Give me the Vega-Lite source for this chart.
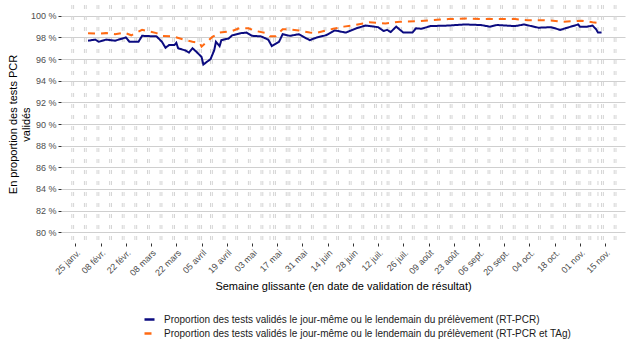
{
  "$schema": "https://vega.github.io/schema/vega-lite/v6.json",
  "width": 564,
  "height": 238,
  "autosize": {"type": "none"},
  "padding": {"left": 61, "top": 5, "right": 10, "bottom": 110},
  "background": "white",
  "config": {
    "view": {"stroke": null},
    "font": "Liberation Sans",
    "axis": {
      "labelFont": "Liberation Sans",
      "titleFont": "Liberation Sans",
      "labelColor": "#4d4d4d",
      "labelFontSize": 9,
      "tickColor": "#333333",
      "tickSize": 3,
      "domain": false,
      "titleFontWeight": "normal",
      "titleFontSize": 11,
      "titleColor": "#000000"
    },
    "axisX": {"labelOverlap": false},
    "axisTemporal": {"labelOverlap": false},
    "legend": {"labelFont": "Liberation Sans", "labelFontSize": 10, "labelColor": "#1a1a1a"}
  },
  "datasets": {
    "weekends": [
      {"date": "2021-01-23"}, {"date": "2021-01-24"}, {"date": "2021-01-30"}, {"date": "2021-01-31"},
      {"date": "2021-02-06"}, {"date": "2021-02-07"}, {"date": "2021-02-13"}, {"date": "2021-02-14"},
      {"date": "2021-02-20"}, {"date": "2021-02-21"}, {"date": "2021-02-27"}, {"date": "2021-02-28"},
      {"date": "2021-03-06"}, {"date": "2021-03-07"}, {"date": "2021-03-13"}, {"date": "2021-03-14"},
      {"date": "2021-03-20"}, {"date": "2021-03-21"}, {"date": "2021-03-27"}, {"date": "2021-03-28"},
      {"date": "2021-04-03"}, {"date": "2021-04-04"}, {"date": "2021-04-05"}, {"date": "2021-04-10"},
      {"date": "2021-04-11"}, {"date": "2021-04-17"}, {"date": "2021-04-18"}, {"date": "2021-04-24"},
      {"date": "2021-04-25"}, {"date": "2021-05-01"}, {"date": "2021-05-02"}, {"date": "2021-05-08"},
      {"date": "2021-05-09"}, {"date": "2021-05-13"}, {"date": "2021-05-15"}, {"date": "2021-05-16"},
      {"date": "2021-05-22"}, {"date": "2021-05-23"}, {"date": "2021-05-24"}, {"date": "2021-05-29"},
      {"date": "2021-05-30"}, {"date": "2021-06-05"}, {"date": "2021-06-06"}, {"date": "2021-06-12"},
      {"date": "2021-06-13"}, {"date": "2021-06-19"}, {"date": "2021-06-20"}, {"date": "2021-06-26"},
      {"date": "2021-06-27"}, {"date": "2021-07-03"}, {"date": "2021-07-04"}, {"date": "2021-07-10"},
      {"date": "2021-07-11"}, {"date": "2021-07-14"}, {"date": "2021-07-17"}, {"date": "2021-07-18"},
      {"date": "2021-07-24"}, {"date": "2021-07-25"}, {"date": "2021-07-31"}, {"date": "2021-08-01"},
      {"date": "2021-08-07"}, {"date": "2021-08-08"}, {"date": "2021-08-14"}, {"date": "2021-08-15"},
      {"date": "2021-08-21"}, {"date": "2021-08-22"}, {"date": "2021-08-28"}, {"date": "2021-08-29"},
      {"date": "2021-09-04"}, {"date": "2021-09-05"}, {"date": "2021-09-11"}, {"date": "2021-09-12"},
      {"date": "2021-09-18"}, {"date": "2021-09-19"}, {"date": "2021-09-25"}, {"date": "2021-09-26"},
      {"date": "2021-10-02"}, {"date": "2021-10-03"}, {"date": "2021-10-09"}, {"date": "2021-10-10"},
      {"date": "2021-10-16"}, {"date": "2021-10-17"}, {"date": "2021-10-23"}, {"date": "2021-10-24"},
      {"date": "2021-10-30"}, {"date": "2021-10-31"}, {"date": "2021-11-01"}, {"date": "2021-11-06"},
      {"date": "2021-11-07"}, {"date": "2021-11-11"}, {"date": "2021-11-13"}, {"date": "2021-11-14"},
      {"date": "2021-11-20"}, {"date": "2021-11-21"}
    ],
    "series": [
      {"date": "2021-02-01", "serie": "pcr", "value": 97.7},
      {"date": "2021-02-05", "serie": "pcr", "value": 97.8},
      {"date": "2021-02-07", "serie": "pcr", "value": 97.6},
      {"date": "2021-02-11", "serie": "pcr", "value": 97.8},
      {"date": "2021-02-16", "serie": "pcr", "value": 97.7},
      {"date": "2021-02-22", "serie": "pcr", "value": 98.0},
      {"date": "2021-02-24", "serie": "pcr", "value": 97.6},
      {"date": "2021-03-01", "serie": "pcr", "value": 97.6},
      {"date": "2021-03-03", "serie": "pcr", "value": 98.15},
      {"date": "2021-03-11", "serie": "pcr", "value": 98.1},
      {"date": "2021-03-14", "serie": "pcr", "value": 97.6},
      {"date": "2021-03-16", "serie": "pcr", "value": 97.05},
      {"date": "2021-03-18", "serie": "pcr", "value": 97.3},
      {"date": "2021-03-21", "serie": "pcr", "value": 97.3},
      {"date": "2021-03-22", "serie": "pcr", "value": 97.5},
      {"date": "2021-03-23", "serie": "pcr", "value": 97.0},
      {"date": "2021-03-27", "serie": "pcr", "value": 96.8},
      {"date": "2021-03-29", "serie": "pcr", "value": 96.6},
      {"date": "2021-03-31", "serie": "pcr", "value": 97.0},
      {"date": "2021-04-02", "serie": "pcr", "value": 96.7},
      {"date": "2021-04-05", "serie": "pcr", "value": 96.2},
      {"date": "2021-04-06", "serie": "pcr", "value": 95.5},
      {"date": "2021-04-08", "serie": "pcr", "value": 95.75},
      {"date": "2021-04-10", "serie": "pcr", "value": 96.0},
      {"date": "2021-04-12", "serie": "pcr", "value": 96.8},
      {"date": "2021-04-13", "serie": "pcr", "value": 97.6},
      {"date": "2021-04-15", "serie": "pcr", "value": 97.2},
      {"date": "2021-04-16", "serie": "pcr", "value": 97.75},
      {"date": "2021-04-20", "serie": "pcr", "value": 97.9},
      {"date": "2021-04-22", "serie": "pcr", "value": 98.2},
      {"date": "2021-04-27", "serie": "pcr", "value": 98.4},
      {"date": "2021-04-30", "serie": "pcr", "value": 98.45},
      {"date": "2021-05-03", "serie": "pcr", "value": 98.15},
      {"date": "2021-05-08", "serie": "pcr", "value": 98.1},
      {"date": "2021-05-12", "serie": "pcr", "value": 97.8},
      {"date": "2021-05-14", "serie": "pcr", "value": 97.2},
      {"date": "2021-05-18", "serie": "pcr", "value": 97.6},
      {"date": "2021-05-20", "serie": "pcr", "value": 98.3},
      {"date": "2021-05-24", "serie": "pcr", "value": 98.15},
      {"date": "2021-05-29", "serie": "pcr", "value": 98.3},
      {"date": "2021-06-04", "serie": "pcr", "value": 97.75},
      {"date": "2021-06-08", "serie": "pcr", "value": 98.0},
      {"date": "2021-06-13", "serie": "pcr", "value": 98.2},
      {"date": "2021-06-18", "serie": "pcr", "value": 98.65},
      {"date": "2021-06-24", "serie": "pcr", "value": 98.45},
      {"date": "2021-06-30", "serie": "pcr", "value": 98.85},
      {"date": "2021-07-05", "serie": "pcr", "value": 99.1},
      {"date": "2021-07-12", "serie": "pcr", "value": 98.95},
      {"date": "2021-07-15", "serie": "pcr", "value": 98.6},
      {"date": "2021-07-17", "serie": "pcr", "value": 98.7},
      {"date": "2021-07-19", "serie": "pcr", "value": 98.5},
      {"date": "2021-07-22", "serie": "pcr", "value": 99.0},
      {"date": "2021-07-26", "serie": "pcr", "value": 98.45},
      {"date": "2021-07-31", "serie": "pcr", "value": 98.45},
      {"date": "2021-08-02", "serie": "pcr", "value": 98.85},
      {"date": "2021-08-05", "serie": "pcr", "value": 98.8},
      {"date": "2021-08-10", "serie": "pcr", "value": 99.05},
      {"date": "2021-08-20", "serie": "pcr", "value": 99.1},
      {"date": "2021-08-29", "serie": "pcr", "value": 99.2},
      {"date": "2021-09-07", "serie": "pcr", "value": 99.15},
      {"date": "2021-09-12", "serie": "pcr", "value": 99.0},
      {"date": "2021-09-16", "serie": "pcr", "value": 99.15},
      {"date": "2021-09-26", "serie": "pcr", "value": 99.05},
      {"date": "2021-10-01", "serie": "pcr", "value": 99.2},
      {"date": "2021-10-09", "serie": "pcr", "value": 98.9},
      {"date": "2021-10-16", "serie": "pcr", "value": 98.95},
      {"date": "2021-10-21", "serie": "pcr", "value": 98.7},
      {"date": "2021-10-25", "serie": "pcr", "value": 98.9},
      {"date": "2021-10-31", "serie": "pcr", "value": 99.2},
      {"date": "2021-11-01", "serie": "pcr", "value": 99.0},
      {"date": "2021-11-05", "serie": "pcr", "value": 99.0},
      {"date": "2021-11-08", "serie": "pcr", "value": 99.1},
      {"date": "2021-11-10", "serie": "pcr", "value": 98.75},
      {"date": "2021-11-11", "serie": "pcr", "value": 98.45},
      {"date": "2021-11-13", "serie": "pcr", "value": 98.45},
      {"date": "2021-02-01", "serie": "tag", "value": 98.4},
      {"date": "2021-02-06", "serie": "tag", "value": 98.35},
      {"date": "2021-02-11", "serie": "tag", "value": 98.4},
      {"date": "2021-02-16", "serie": "tag", "value": 98.3},
      {"date": "2021-02-21", "serie": "tag", "value": 98.45},
      {"date": "2021-02-25", "serie": "tag", "value": 98.2},
      {"date": "2021-03-03", "serie": "tag", "value": 98.7},
      {"date": "2021-03-11", "serie": "tag", "value": 98.4},
      {"date": "2021-03-14", "serie": "tag", "value": 98.15},
      {"date": "2021-03-20", "serie": "tag", "value": 98.1},
      {"date": "2021-03-27", "serie": "tag", "value": 97.75},
      {"date": "2021-03-31", "serie": "tag", "value": 97.6},
      {"date": "2021-04-04", "serie": "tag", "value": 97.5},
      {"date": "2021-04-05", "serie": "tag", "value": 97.15},
      {"date": "2021-04-08", "serie": "tag", "value": 97.6},
      {"date": "2021-04-11", "serie": "tag", "value": 98.05},
      {"date": "2021-04-15", "serie": "tag", "value": 98.45},
      {"date": "2021-04-22", "serie": "tag", "value": 98.6},
      {"date": "2021-04-26", "serie": "tag", "value": 98.85},
      {"date": "2021-05-01", "serie": "tag", "value": 98.85},
      {"date": "2021-05-05", "serie": "tag", "value": 98.6},
      {"date": "2021-05-11", "serie": "tag", "value": 98.4},
      {"date": "2021-05-13", "serie": "tag", "value": 98.1},
      {"date": "2021-05-16", "serie": "tag", "value": 98.1},
      {"date": "2021-05-20", "serie": "tag", "value": 98.75},
      {"date": "2021-05-24", "serie": "tag", "value": 98.75},
      {"date": "2021-05-29", "serie": "tag", "value": 98.65},
      {"date": "2021-06-04", "serie": "tag", "value": 98.45},
      {"date": "2021-06-07", "serie": "tag", "value": 98.4},
      {"date": "2021-06-17", "serie": "tag", "value": 98.8},
      {"date": "2021-06-23", "serie": "tag", "value": 99.0},
      {"date": "2021-06-29", "serie": "tag", "value": 99.15},
      {"date": "2021-07-07", "serie": "tag", "value": 99.4},
      {"date": "2021-07-16", "serie": "tag", "value": 99.3},
      {"date": "2021-07-24", "serie": "tag", "value": 99.45},
      {"date": "2021-08-04", "serie": "tag", "value": 99.5},
      {"date": "2021-08-11", "serie": "tag", "value": 99.6},
      {"date": "2021-08-20", "serie": "tag", "value": 99.7},
      {"date": "2021-08-30", "serie": "tag", "value": 99.75},
      {"date": "2021-09-07", "serie": "tag", "value": 99.7},
      {"date": "2021-09-26", "serie": "tag", "value": 99.7},
      {"date": "2021-10-03", "serie": "tag", "value": 99.6},
      {"date": "2021-10-12", "serie": "tag", "value": 99.6},
      {"date": "2021-10-17", "serie": "tag", "value": 99.55},
      {"date": "2021-10-22", "serie": "tag", "value": 99.45},
      {"date": "2021-10-28", "serie": "tag", "value": 99.5},
      {"date": "2021-11-02", "serie": "tag", "value": 99.55},
      {"date": "2021-11-08", "serie": "tag", "value": 99.4},
      {"date": "2021-11-13", "serie": "tag", "value": 99.3}
    ]
  },
  "encoding": {
    "x": {
      "field": "date",
      "type": "temporal",
      "scale": {
        "type": "utc",
        "domain": [
          {"year": 2021, "month": 1, "date": 17, "utc": true},
          {"year": 2021, "month": 11, "date": 26, "utc": true}
        ]
      },
      "axis": {
        "title": "Semaine glissante (en date de validation de résultat)",
        "grid": false,
        "labelAngle": -45,
        "labelPadding": 2,
        "labelOverlap": false,
        "titlePadding": 3,
        "values": [
          {"year": 2021, "month": 1, "date": 25, "utc": true},
          {"year": 2021, "month": 2, "date": 8, "utc": true},
          {"year": 2021, "month": 2, "date": 22, "utc": true},
          {"year": 2021, "month": 3, "date": 8, "utc": true},
          {"year": 2021, "month": 3, "date": 22, "utc": true},
          {"year": 2021, "month": 4, "date": 5, "utc": true},
          {"year": 2021, "month": 4, "date": 19, "utc": true},
          {"year": 2021, "month": 5, "date": 3, "utc": true},
          {"year": 2021, "month": 5, "date": 17, "utc": true},
          {"year": 2021, "month": 5, "date": 31, "utc": true},
          {"year": 2021, "month": 6, "date": 14, "utc": true},
          {"year": 2021, "month": 6, "date": 28, "utc": true},
          {"year": 2021, "month": 7, "date": 12, "utc": true},
          {"year": 2021, "month": 7, "date": 26, "utc": true},
          {"year": 2021, "month": 8, "date": 9, "utc": true},
          {"year": 2021, "month": 8, "date": 23, "utc": true},
          {"year": 2021, "month": 9, "date": 6, "utc": true},
          {"year": 2021, "month": 9, "date": 20, "utc": true},
          {"year": 2021, "month": 10, "date": 4, "utc": true},
          {"year": 2021, "month": 10, "date": 18, "utc": true},
          {"year": 2021, "month": 11, "date": 1, "utc": true},
          {"year": 2021, "month": 11, "date": 15, "utc": true}
        ],
        "labelExpr": "utcFormat(datum.value, '%d') + ' ' + ['janv.','févr.','mars','avril','mai','juin','juil.','août','sept.','oct.','nov.','déc.'][utcmonth(datum.value)]"
      }
    }
  },
  "layer": [
    {
      "data": {"name": "weekends", "format": {"parse": {"date": "utc:'%Y-%m-%d'"}}},
      "mark": {"type": "rule", "color": "#d4d4d4", "strokeWidth": 1, "strokeDash": [4, 7]}
    },
    {
      "data": {"name": "series", "format": {"parse": {"date": "utc:'%Y-%m-%d'"}}},
      "mark": {"type": "line", "strokeWidth": 2, "interpolate": "linear"},
      "encoding": {
        "y": {
          "field": "value",
          "type": "quantitative",
          "scale": {"domain": [79, 101], "nice": false, "zero": false},
          "axis": {
            "title": ["En proportion des tests PCR", "validés"],
            "values": [80, 82, 84, 86, 88, 90, 92, 94, 96, 98, 100],
            "labelExpr": "datum.value + ' %'",
            "grid": true,
            "gridColor": "#cfcfcf",
            "gridWidth": 1,
            "labelPadding": 2,
            "titlePadding": -1
          }
        },
        "color": {
          "field": "serie",
          "type": "nominal",
          "scale": {"domain": ["pcr", "tag"], "range": ["#0b0b80", "#ff6a13"]},
          "legend": {
            "title": null,
            "orient": "none",
            "legendX": 82,
            "legendY": 308,
            "direction": "vertical",
            "symbolType": "stroke",
            "symbolSize": 100,
            "symbolStrokeWidth": 2.5,
            "labelOffset": 8,
            "labelLimit": 0,
            "rowPadding": 2,
            "labelExpr": "datum.label == 'pcr' ? 'Proportion des tests validés le jour-même ou le lendemain du prélèvement (RT-PCR)' : 'Proportion des tests validés le jour-même ou le lendemain du prélèvement (RT-PCR et TAg)'"
          }
        },
        "strokeDash": {
          "field": "serie",
          "type": "nominal",
          "scale": {"domain": ["pcr", "tag"], "range": [[1, 0], [7, 6]]},
          "legend": null
        }
      }
    }
  ]
}
